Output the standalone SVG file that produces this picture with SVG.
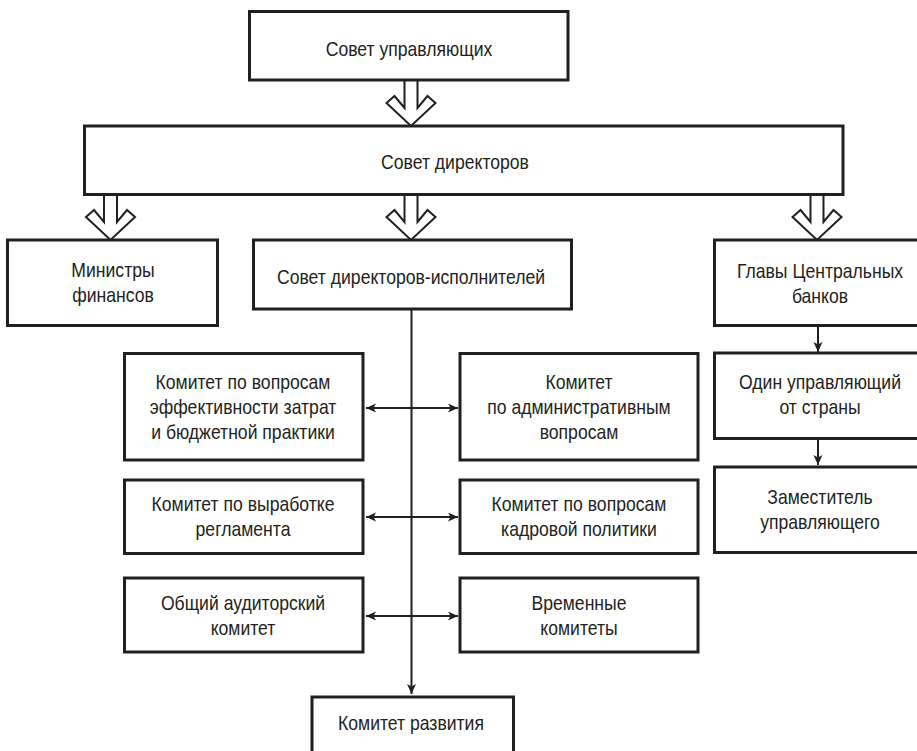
<svg xmlns="http://www.w3.org/2000/svg" width="917" height="751" viewBox="0 0 917 751">
<style>
.box{fill:#fff;stroke:#231f20;stroke-width:3}
.t{font-family:"Liberation Sans",Arial,sans-serif;font-size:20px;fill:#231f20;text-anchor:middle;transform-box:fill-box;transform-origin:center;transform:scaleX(0.88)}
.big{fill:#fff;stroke:#231f20;stroke-width:2;stroke-linejoin:miter}
.ln{fill:none;stroke:#231f20;stroke-width:2}
</style>
<defs>
<marker id="ah" markerUnits="userSpaceOnUse" markerWidth="12" markerHeight="10" refX="10" refY="4.5" orient="auto-start-reverse">
<path d="M0,0 L10,4.5 L0,9 L2.5,4.5 z" fill="#231f20"/>
</marker>
</defs>
<rect width="917" height="751" fill="#fff"/>
<g id="connectors">
<polygon class="big" points="404.5,80 404.5,108 394.5,96 386.5,103 411,126 435.5,103 427.5,96 417.5,108 417.5,80"/>
<polygon class="big" points="104,194 104,222 94,210 86,217 110.5,240 135,217 127,210 117,222 117,194"/>
<polygon class="big" points="404.5,194 404.5,222 394.5,210 386.5,217 411,240 435.5,217 427.5,210 417.5,222 417.5,194"/>
<polygon class="big" points="810.5,194 810.5,222 800.5,210 792.5,217 817,240 841.5,217 833.5,210 823.5,222 823.5,194"/>
<line class="ln" x1="411.5" y1="309" x2="411.5" y2="694" marker-end="url(#ah)"/>
<line class="ln" x1="366" y1="408" x2="458" y2="408" marker-start="url(#ah)" marker-end="url(#ah)"/>
<line class="ln" x1="366" y1="517" x2="458" y2="517" marker-start="url(#ah)" marker-end="url(#ah)"/>
<line class="ln" x1="366" y1="616" x2="458" y2="616" marker-start="url(#ah)" marker-end="url(#ah)"/>
<line class="ln" x1="818" y1="326" x2="818" y2="352" marker-end="url(#ah)"/>
<line class="ln" x1="818" y1="439" x2="818" y2="465" marker-end="url(#ah)"/>
</g>
<g id="n-sovet-upr"><rect class="box" x="249.5" y="11.5" width="318.5" height="68.5"/><text class="t" x="409" y="56">Совет управляющих</text></g>
<g id="n-sovet-dir"><rect class="box" x="84.5" y="126" width="758.5" height="68.5"/><text class="t" x="455" y="169">Совет директоров</text></g>
<g id="n-ministry"><rect class="box" x="7.5" y="240" width="210" height="85.5"/><text class="t" x="113" y="277">Министры</text><text class="t" x="113" y="302">финансов</text></g>
<g id="n-exec"><rect class="box" x="253.5" y="240" width="318" height="69"/><text class="t" x="411" y="284">Совет директоров-исполнителей</text></g>
<g id="n-cb"><rect class="box" x="714.5" y="240" width="210" height="85.5"/><text class="t" x="820" y="278">Главы Центральных</text><text class="t" x="820" y="303">банков</text></g>
<g id="n-one"><rect class="box" x="714.5" y="353" width="210" height="85.5"/><text class="t" x="820" y="389">Один управляющий</text><text class="t" x="820" y="414">от страны</text></g>
<g id="n-deputy"><rect class="box" x="714.5" y="467" width="210" height="85.5"/><text class="t" x="820" y="504">Заместитель</text><text class="t" x="820" y="529">управляющего</text></g>
<g id="n-cost"><rect class="box" x="124.5" y="353.5" width="238.5" height="106.5"/><text class="t" x="243" y="389">Комитет по вопросам</text><text class="t" x="243" y="414">эффективности затрат</text><text class="t" x="243" y="439">и бюджетной практики</text></g>
<g id="n-admin"><rect class="box" x="460" y="353.5" width="238" height="106.5"/><text class="t" x="579" y="389">Комитет</text><text class="t" x="579" y="414">по административным</text><text class="t" x="579" y="439">вопросам</text></g>
<g id="n-reg"><rect class="box" x="124.5" y="480" width="238.5" height="73.5"/><text class="t" x="243" y="511">Комитет по выработке</text><text class="t" x="243" y="536">регламента</text></g>
<g id="n-hr"><rect class="box" x="460" y="480" width="238" height="73.5"/><text class="t" x="579" y="511">Комитет по вопросам</text><text class="t" x="579" y="536">кадровой политики</text></g>
<g id="n-audit"><rect class="box" x="124.5" y="578" width="238.5" height="74"/><text class="t" x="243" y="610">Общий аудиторский</text><text class="t" x="243" y="635">комитет</text></g>
<g id="n-temp"><rect class="box" x="460" y="578" width="238" height="74"/><text class="t" x="579" y="610">Временные</text><text class="t" x="579" y="635">комитеты</text></g>
<g id="n-dev"><rect class="box" x="312" y="697" width="201.5" height="80"/><text class="t" x="411" y="730">Комитет развития</text></g>
</svg>
